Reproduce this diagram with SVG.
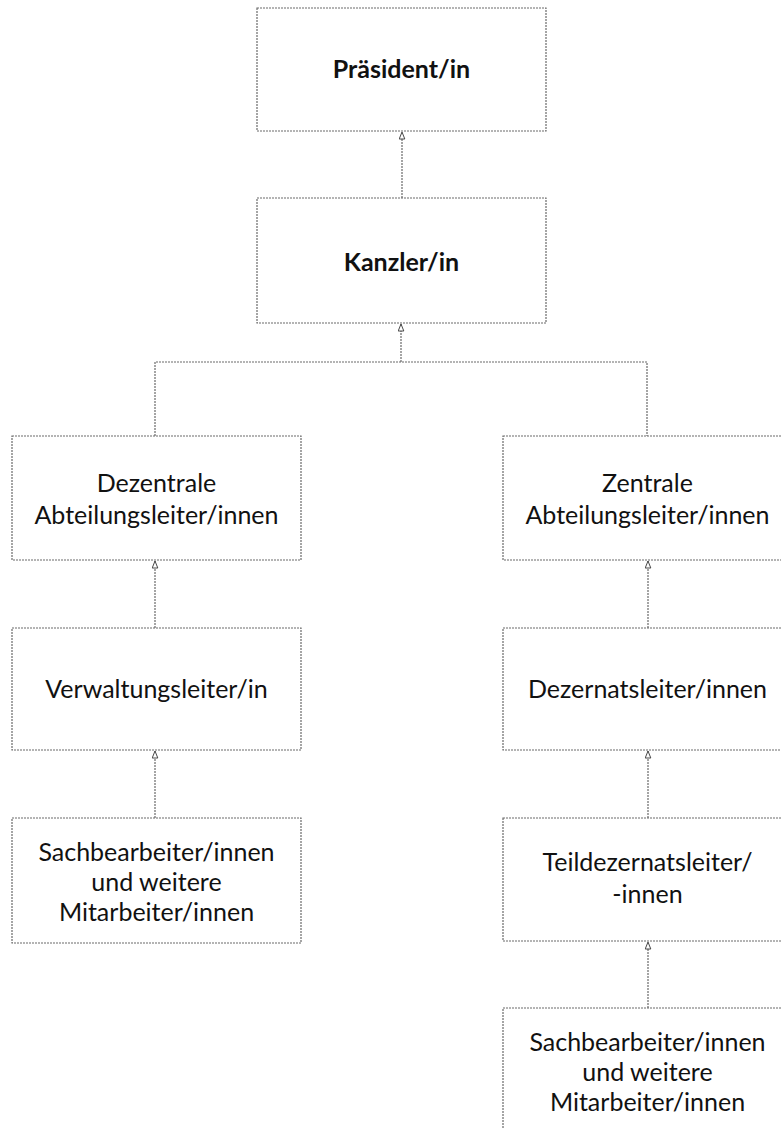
<svg xmlns="http://www.w3.org/2000/svg" width="781" height="1129" viewBox="0 0 781 1129">
<style>
.box{fill:#fff;stroke:#6a6a6a;stroke-width:1.2;stroke-dasharray:2 1}
.t{font-family:Lato,"Open Sans",sans-serif;font-size:25px;fill:#111;text-anchor:middle}
.b{font-weight:bold}
.c{fill:none;stroke:#6a6a6a;stroke-width:1.2;stroke-dasharray:2 1}
</style>
<defs>
<marker id="ah" viewBox="0 0 12 10" refX="11" refY="5" markerWidth="9" markerHeight="7" orient="auto" markerUnits="userSpaceOnUse">
<path d="M11 5 L1 1 L1 9 Z" fill="#fff" stroke="#444" stroke-width="1.4"/>
</marker>
</defs>
<rect width="781" height="1129" fill="#fff"/>
<g id="connectors">
<line class="c" x1="402" y1="198" x2="402" y2="132" marker-end="url(#ah)"/>
<line class="c" x1="401" y1="362" x2="401" y2="324" marker-end="url(#ah)"/>
<polyline class="c" points="155,436 155,362 647,362 647,436"/>
<line class="c" x1="155" y1="628" x2="155" y2="561" marker-end="url(#ah)"/>
<line class="c" x1="155" y1="818" x2="155" y2="751" marker-end="url(#ah)"/>
<line class="c" x1="648" y1="628" x2="648" y2="561" marker-end="url(#ah)"/>
<line class="c" x1="648" y1="818" x2="648" y2="751" marker-end="url(#ah)"/>
<line class="c" x1="648" y1="1008" x2="648" y2="942" marker-end="url(#ah)"/>
</g>
<g id="praesident">
<rect class="box" x="257" y="8" width="289" height="123"/>
<text class="t b" x="401.5" y="78">Präsident/in</text>
</g>
<g id="kanzler">
<rect class="box" x="257" y="198" width="289" height="125"/>
<text class="t b" x="401.5" y="271">Kanzler/in</text>
</g>
<g id="dezentrale">
<rect class="box" x="12" y="436" width="289" height="124"/>
<text class="t" x="156.5" y="492">Dezentrale</text>
<text class="t" x="156.5" y="524">Abteilungsleiter/innen</text>
</g>
<g id="verwaltung">
<rect class="box" x="12" y="628" width="289" height="122"/>
<text class="t" x="156.5" y="698">Verwaltungsleiter/in</text>
</g>
<g id="sach-links">
<rect class="box" x="12" y="818" width="289" height="125"/>
<text class="t" x="156.5" y="861">Sachbearbeiter/innen</text>
<text class="t" x="156.5" y="891">und weitere</text>
<text class="t" x="156.5" y="921">Mitarbeiter/innen</text>
</g>
<g id="zentrale">
<rect class="box" x="503" y="436" width="289" height="124"/>
<text class="t" x="647.5" y="492">Zentrale</text>
<text class="t" x="647.5" y="524">Abteilungsleiter/innen</text>
</g>
<g id="dezernat">
<rect class="box" x="503" y="628" width="289" height="122"/>
<text class="t" x="647.5" y="698">Dezernatsleiter/innen</text>
</g>
<g id="teildezernat">
<rect class="box" x="503" y="818" width="289" height="123"/>
<text class="t" x="647.5" y="871">Teildezernatsleiter/</text>
<text class="t" x="647.5" y="903">-innen</text>
</g>
<g id="sach-rechts">
<rect class="box" x="503" y="1008" width="289" height="140"/>
<text class="t" x="647.5" y="1051">Sachbearbeiter/innen</text>
<text class="t" x="647.5" y="1081">und weitere</text>
<text class="t" x="647.5" y="1111">Mitarbeiter/innen</text>
</g>
</svg>
